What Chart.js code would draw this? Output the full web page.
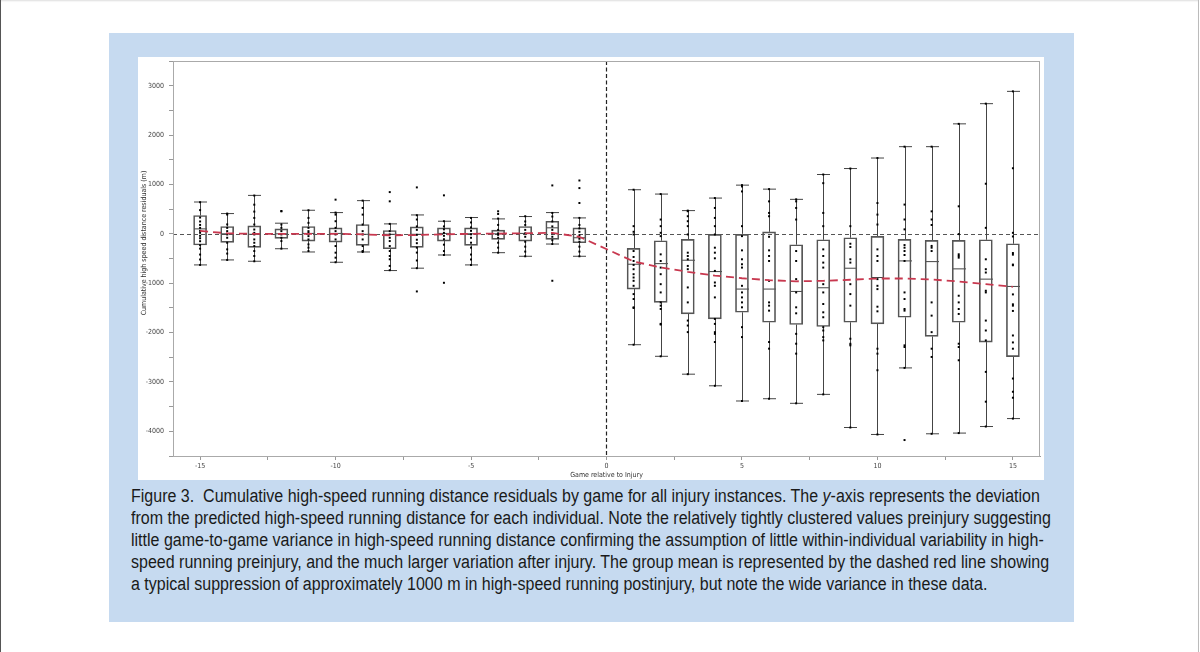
<!DOCTYPE html>
<html>
<head>
<meta charset="utf-8">
<script src="https://cdn.jsdelivr.net/npm/chart.js@4.4.1/dist/chart.umd.min.js"></script>
<style>
  body { margin: 0; width: 1200px; height: 652px; background: #fff; position: relative; overflow: hidden; }
  #page { position: absolute; left: 0; top: 0; width: 1197px; height: 652px;
          border-left: 1px solid #555; border-right: 1px solid #bbb; box-shadow: inset 0 2px 2px -1px #ddd; }
  #panel { position: absolute; left: 109px; top: 33px; width: 965px; height: 589px; background: #c6daf0; }
  #plot { position: absolute; left: 138px; top: 57px; width: 906px; height: 423px; background: #fff; }
  #caption { position: absolute; left: 131px; top: 485px; width: 1200px;
             font-family: "Liberation Sans", Arial, sans-serif;
             font-size: 18px; line-height: 22px; color: #1a1a1a; white-space: nowrap;
             transform: scaleX(0.89); transform-origin: 0 0; }
</style>
</head>
<body>
<div id="page"></div>
<div id="panel"></div>
<div id="plot"><canvas id="residualChart"></canvas></div>
<div id="caption">
Figure 3.&nbsp; Cumulative high-speed running distance residuals by game for all injury instances. The <i>y</i>-axis represents the deviation<br>
from the predicted high-speed running distance for each individual. Note the relatively tightly clustered values preinjury suggesting<br>
little game-to-game variance in high-speed running distance confirming the assumption of little within-individual variability in high-<br>
speed running preinjury, and the much larger variation after injury. The group mean is represented by the dashed red line showing<br>
a typical suppression of approximately 1000 m in high-speed running postinjury, but note the wide variance in these data.
</div>
<script>
// games relative to injury (no game 0)
const games = [-15, -14, -13, -12, -11, -10, -9, -8, -7, -6, -5, -4, -3, -2, -1,
               1, 2, 3, 4, 5, 6, 7, 8, 9, 10, 11, 12, 13, 14, 15];

// box plot summaries (m)
const whiskerHigh = [644, 410, 778, 215, 477, 430, 672, 201, 382, 255, 330, 302, 350, 430, 322,
                     893, 805, 470, 724, 986, 905, 698, 1201, 1322, 1535, 1765, 1765, 2227, 2636, 2885];
const q3 = [370, 148, 161, 101, 148, 121, 189, 68, 141, 121, 121, 74, 148, 255, 121,
            -294, -141, -113, 0, 0, 40, -221, -121, -80, -53, -113, -134, -134, -121, -201];
const median = [100, 0, -10, 0, 8, 8, -10, -10, -10, 8, 0, 0, 8, 121, -80,
                -616, -604, -535, -765, -1119, -1119, -1167, -1093, -697, -885, -549, -563, -710, -918, -1066];
const q1 = [-227, -174, -275, -93, -147, -167, -234, -302, -275, -147, -234, -113, -147, -113, -181,
            -1119, -1388, -1622, -1722, -1589, -1791, -1837, -1877, -1791, -1823, -1690, -2078, -1791, -2193, -2487];
const whiskerLow = [-630, -529, -556, -302, -368, -576, -368, -744, -696, -429, -630, -382, -455, -207, -455,
                    -2246, -2481, -2843, -3078, -3386, -3340, -3433, -3252, -3923, -4064, -2716, -4050, -4036, -3903, -3742];

// group mean (red dashed line)
const groupMean = [60, 10, 0, 0, 0, 0, -10, -30, -25, -10, 0, 5, 10, 20, -60,
                   -560, -680, -771, -845, -900, -938, -962, -952, -930, -905, -905, -925, -966, -1019, -1073];

// individual residuals per game, incl. outliers
const gamePoints = [
  [640, 480, 330, 250, 180, 120, 60, 20, -40, -90, -150, -230, -300, -420, -520, -630],
  [410, 390, 190, 120, 54, -13, -80, -181, -315, -400, -529],
  [775, 590, 450, 322, 188, 87, 20, -13, -114, -181, -248, -349, -449, -556],
  [462, 455, 188, 121, 54, -13, -80, -147, -300],
  [477, 322, 222, 121, 54, 20, -47, -114, -214, -280, -349],
  [692, 430, 389, 255, 121, 54, -13, -114, -248, -382, -483, -576],
  [672, 524, 389, 188, 54, -13, -114, -248, -349, -368],
  [845, 658, 201, 54, -13, -80, -147, -248, -349, -449, -516, -650, -737],
  [940, 376, 290, 150, 80, -20, -120, -190, -280, -380, -540, -696, -1167],
  [779, 255, 150, 90, 20, -40, -110, -220, -350, -429, -992],
  [322, 230, 130, 60, -10, -80, -180, -280, -420, -520, -630],
  [456, 402, 309, 180, 80, 10, -20, -80, -180, -280, -382],
  [356, 250, 180, 80, 10, -60, -160, -260, -360, -455],
  [980, 423, 350, 250, 150, 80, 10, -60, -130, -207, -951],
  [1080, 926, 624, 322, 180, 110, 40, -30, -100, -160, -260, -360, -455],
  [893, 155, 41, -13, -349, -469, -550, -630, -717, -818, -885, -952, -1053, -1221, -1321, -1489, -1502, -2246],
  [805, 289, 155, 20, -47, -416, -550, -684, -818, -1020, -1187, -1389, -1455, -1522, -1824, -1837, -2481],
  [470, 457, 356, 255, 155, -13, -382, -449, -516, -650, -717, -1086, -1389, -1757, -1858, -1991, -2843],
  [724, 524, 322, 155, -13, -281, -382, -496, -751, -986, -1053, -1288, -1724, -1824, -1992, -2026, -2192, -3078],
  [986, 959, 858, 155, -47, -335, -516, -617, -684, -1053, -1187, -1288, -1389, -1489, -1891, -2092, -3386],
  [905, 657, 423, 356, -60, -335, -449, -550, -952, -1389, -1455, -1556, -2192, -2326, -3340],
  [698, 657, 524, 289, -349, -550, -918, -1187, -1489, -1610, -2026, -2226, -2427, -3433],
  [1201, 1026, 423, 155, -315, -449, -583, -684, -1020, -1187, -1422, -1590, -1690, -1891, -1958, -2092, -2159, -3252],
  [1322, 155, -201, -268, -516, -583, -1020, -1221, -1455, -2125, -2227, -2259, -3923],
  [1535, 623, 389, 188, -315, -449, -550, -918, -1053, -1120, -1476, -1570, -2327, -2427, -2763, -4064],
  [1765, 592, 290, 90, -228, -281, -349, -429, -550, -1187, -1321, -1522, -1556, -2259, -2293, -2716, -4177],
  [1765, 455, 290, 179, -245, -281, -349, -1389, -1657, -1992, -2327, -2494, -4050],
  [2227, 557, -6, -415, -449, -483, -1254, -1389, -1523, -1623, -2226, -2293, -2561, -4036],
  [2636, 1014, 121, -516, -717, -784, -1153, -1187, -1757, -1958, -2159, -2796, -3400, -3903],
  [2885, 1328, 20, -54, -389, -422, -623, -637, -1227, -1428, -1455, -1562, -2059, -2200, -2327, -2931, -3199, -3320, -3742]
];

const boxData = games.map((g, i) => ({ x: g, y: [q1[i], q3[i]] }));
const pointData = games.flatMap((g, i) => gamePoints[i].map(v => ({ x: g, y: v })));
const meanData = games.map((g, i) => ({ x: g, y: groupMean[i] }));

const tickFont = { family: "'DejaVu Sans Condensed', 'DejaVu Sans', sans-serif", size: 7 };

// whiskers, caps, medians, reference lines and frame
const boxPlotExtras = {
  id: 'boxPlotExtras',
  beforeDatasetsDraw(chart) {
    const { ctx, chartArea, scales: { x, y } } = chart;
    ctx.save();
    // zero lines
    ctx.lineWidth = 1;
    ctx.strokeStyle = '#555';
    ctx.setLineDash([4, 3]);
    ctx.beginPath();
    ctx.moveTo(chartArea.left, Math.round(y.getPixelForValue(0)) + 0.5);
    ctx.lineTo(chartArea.right, Math.round(y.getPixelForValue(0)) + 0.5);
    ctx.stroke();
    ctx.strokeStyle = '#222';
    ctx.lineWidth = 1.2;
    ctx.setLineDash([4, 2.5]);
    ctx.beginPath();
    ctx.moveTo(x.getPixelForValue(0), chartArea.top);
    ctx.lineTo(x.getPixelForValue(0), chartArea.bottom);
    ctx.stroke();
    ctx.setLineDash([]);

    // whiskers and caps
    ctx.strokeStyle = '#444';
    ctx.lineWidth = 1;
    const cap = 6.5;
    games.forEach((g, i) => {
      const px = Math.round(x.getPixelForValue(g)) + 0.5;
      const yHi = y.getPixelForValue(whiskerHigh[i]);
      const yLo = y.getPixelForValue(whiskerLow[i]);
      ctx.beginPath();
      ctx.moveTo(px, yHi); ctx.lineTo(px, y.getPixelForValue(q3[i]));
      ctx.moveTo(px, y.getPixelForValue(q1[i])); ctx.lineTo(px, yLo);
      ctx.moveTo(px - cap, yHi); ctx.lineTo(px + cap, yHi);
      ctx.moveTo(px - cap, yLo); ctx.lineTo(px + cap, yLo);
      const ym = y.getPixelForValue(median[i]);
      ctx.moveTo(px - cap, ym); ctx.lineTo(px + cap, ym);
      ctx.stroke();
    });
    ctx.restore();
  },
  afterDraw(chart) {
    const { ctx, chartArea } = chart;
    ctx.save();
    ctx.strokeStyle = '#aaa';
    ctx.lineWidth = 1;
    ctx.strokeRect(chartArea.left + 0.5, chartArea.top + 0.5,
                   chartArea.right - chartArea.left - 1, chartArea.bottom - chartArea.top);
    // y axis title
    ctx.fillStyle = '#333';
    ctx.font = "7px 'DejaVu Sans Condensed', 'DejaVu Sans', sans-serif";
    ctx.textAlign = 'center';
    ctx.textBaseline = 'middle';
    ctx.translate(6, 186);
    ctx.rotate(-Math.PI / 2);
    ctx.fillText('Cumulative high speed distance residuals (m)', 0, 0);
    ctx.restore();
  }
};

// drop the label-driven padding so the plot frame fills the panel
function noPad(s) {
  s.paddingTop = 0; s.paddingBottom = 0; s.paddingLeft = 0; s.paddingRight = 0;
}

const chart = new Chart(document.getElementById('residualChart'), {
  type: 'bar',
  data: {
    datasets: [
      {
        type: 'line',
        data: meanData,
        borderColor: '#c8384f',
        borderWidth: 1.8,
        borderDash: [8, 5],
        pointRadius: 0,
        fill: false,
        order: 0
      },
      {
        type: 'scatter',
        data: pointData,
        pointStyle: 'rect',
        pointRadius: 1.4,
        backgroundColor: '#000',
        borderColor: '#000',
        borderWidth: 0,
        order: 1
      },
      {
        type: 'bar',
        data: boxData,
        backgroundColor: 'rgba(255,255,255,0)',
        borderColor: '#555',
        borderWidth: 1,
        borderSkipped: false,
        barThickness: 13,
        order: 2
      }
    ]
  },
  options: {
    responsive: true,
    maintainAspectRatio: false,
    animation: false,
    layout: { padding: { top: 2, right: 1 } },
    plugins: { legend: { display: false }, tooltip: { enabled: false } },
    scales: {
      x: {
        type: 'linear',
        min: -16,
        max: 16,
        offset: false,
        grid: { display: true, drawOnChartArea: false, drawTicks: true, tickLength: 4, color: '#999', offset: false },
        border: { display: true, color: '#999' },
        ticks: {
          stepSize: 2.5,
          includeBounds: false,
          autoSkip: false,
          maxRotation: 0,
          padding: 2,
          color: '#444',
          font: tickFont,
          callback: v => (v % 5 === 0 ? String(v) : '')
        },
        title: {
          display: true,
          text: 'Game relative to Injury',
          color: '#333',
          font: { family: tickFont.family, size: 7 },
          padding: { top: 0, bottom: 1 }
        },
        afterFit: s => { s.height = 24; noPad(s); }
      },
      y: {
        min: -4500,
        max: 3500,
        grid: { display: true, drawOnChartArea: false, drawTicks: true, tickLength: 4, color: '#999' },
        border: { display: true, color: '#999' },
        ticks: {
          stepSize: 500,
          includeBounds: false,
          autoSkip: false,
          padding: 5,
          color: '#444',
          font: tickFont,
          callback: v => (v % 1000 === 0 ? String(v) : '')
        },
        afterFit: s => { s.width = 35; noPad(s); }
      }
    }
  },
  plugins: [boxPlotExtras]
});
</script>
</body>
</html>
